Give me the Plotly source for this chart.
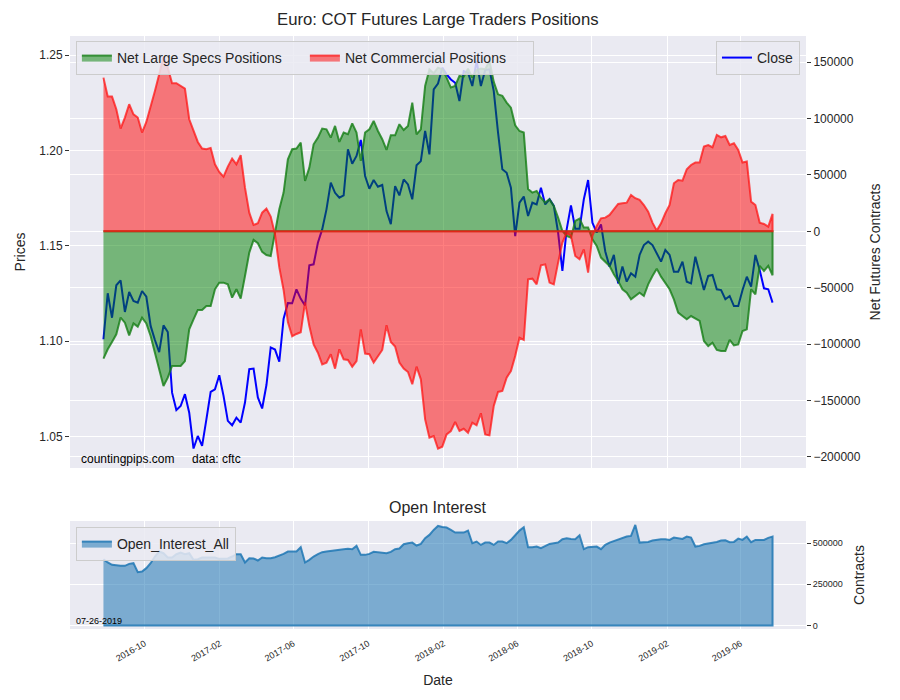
import pandas as pd
import plotly.graph_objects as go

dates = pd.date_range("2016-07-26", periods=157, freq="7D")

net_large_specs = [
    -112900, -104600, -98100, -91300, -76500, -81000, -92200, -81600, -84500, -76500,
    -81600, -92800, -107600, -122300, -137100, -129700, -119400, -119400, -119400, -115000,
    -86900, -78000, -69700, -69700, -66200, -66200, -51400, -45500, -45500, -47000,
    -58800, -51400, -59700, -39600, -18900, -7700, -10600, -18300, -21000, -21900,
    -2700, 19500, 34300, 63800, 72700, 73300, 78600, 44600, 56400, 77100,
    83000, 91000, 90400, 83000, 93400, 79200, 87500, 86000, 95700, 87500,
    62400, 87500, 90400, 97800, 88900, 81600, 72100, 85100, 85100, 94900,
    89800, 93400, 114100, 86000, 90400, 128800, 143600, 140100, 145100, 143600,
    136200, 127400, 128800, 137700, 137100, 144200, 136200, 143000, 144200, 143600,
    151000, 132400, 121400, 120000, 114100, 109600, 94000, 88900, 87500, 37400,
    34300, 35800, 29800, 25400, 28400, 22500, 12100, 300, -4100, -5600,
    9200, 11200, 3300, 3300, -7100, -13000, -23300, -27000, -30700, -38100,
    -44000, -51400, -54400, -60300, -57300, -54400, -57300, -47000, -39600, -33100,
    -40200, -45500, -51400, -60300, -72100, -75100, -78000, -75100, -77400, -79500,
    -97200, -101700, -98700, -105200, -106100, -106100, -96300, -101100, -100200, -88400,
    -86900, -51400, -55800, -30700, -35200, -30700, -39000,
]

net_commercial = [
    136200, 119400, 119400, 108200, 91000, 100800, 112600, 103700, 100800, 87500,
    96900, 109600, 124400, 139200, 154800, 145100, 131200, 131200, 128800, 126500,
    99300, 89800, 79200, 73300, 72700, 73900, 59400, 52600, 48500, 57300,
    64400, 59400, 67400, 38700, 16500, 5600, 7100, 16500, 20100, 13000,
    -2700, -32000, -52000, -80500, -93000, -91000, -89500, -63000, -84000, -100200,
    -107600, -117900, -116400, -109000, -121700, -104600, -113500, -114100, -120000, -115000,
    -86900, -108400, -109000, -116400, -110500, -105200, -83300, -98100, -102200, -116400,
    -121700, -124700, -135600, -120000, -131200, -166700, -182900, -181400, -192700, -190900,
    -180000, -177000, -169000, -177000, -175000, -178500, -169600, -172000, -161300, -180000,
    -180900, -154800, -142400, -141500, -129700, -123800, -110500, -94300, -96300, -42600,
    -42000, -47000, -30100, -29300, -45500, -47000, -27800, -10000, -1200, -4100,
    -21900, -24800, -16000, -36600, -4100, 4700, 11500, 12100, 14500, 18900,
    24200, 24800, 25400, 32200, 29300, 27800, 23300, 17400, 7700, 600,
    7100, 16000, 23300, 42600, 45500, 44900, 55000, 58800, 60900, 60900,
    75100, 76500, 74500, 85400, 83300, 84500, 76500, 78000, 72100, 60900,
    61800, 26300, 23300, 7700, 6500, 4100, 15400,
]

close = [
    1.1010, 1.1251, 1.1123, 1.1293, 1.1319, 1.1153, 1.1258, 1.1211, 1.1202, 1.1263,
    1.1233, 1.1080, 1.1006, 1.0943, 1.1083, 1.1048, 1.0730, 1.0639, 1.0660, 1.0722,
    1.0625, 1.0437, 1.0503, 1.0451, 1.0590, 1.0734, 1.0748, 1.0821, 1.0713, 1.0582,
    1.0559, 1.0599, 1.0573, 1.0678, 1.0853, 1.0856, 1.0705, 1.0647, 1.0770, 1.0967,
    1.0956, 1.0892, 1.1118, 1.1200, 1.1199, 1.1272, 1.1222, 1.1187, 1.1398, 1.1403,
    1.1516, 1.1586, 1.1691, 1.1831, 1.1778, 1.1752, 1.1764, 1.2006, 1.1930, 1.1971,
    1.2055, 1.1866, 1.1799, 1.1845, 1.1810, 1.1819, 1.1682, 1.1613, 1.1813, 1.1764,
    1.1848, 1.1822, 1.1744, 1.1922, 1.1944, 1.2102, 1.1979, 1.2320, 1.2351, 1.2434,
    1.2399, 1.2372, 1.2355, 1.2259, 1.2416, 1.2407, 1.2338, 1.2469, 1.2338, 1.2421,
    1.2425, 1.2311, 1.2093, 1.1901, 1.1883, 1.1805, 1.1551, 1.1726, 1.1758, 1.1656,
    1.1726, 1.1717, 1.1805, 1.1717, 1.1744, 1.1709, 1.1569, 1.1368, 1.1586, 1.1712,
    1.1590, 1.1590, 1.1744, 1.1845, 1.1621, 1.1569, 1.1612, 1.1470, 1.1390, 1.1452,
    1.1303, 1.1391, 1.1312, 1.1356, 1.1338, 1.1452, 1.1504, 1.1522, 1.1504, 1.1461,
    1.1417, 1.1478, 1.1452, 1.1364, 1.1364, 1.1417, 1.1312, 1.1303, 1.1443, 1.1356,
    1.1268, 1.1342, 1.1347, 1.1272, 1.1268, 1.1220, 1.1237, 1.1184, 1.1184, 1.1268,
    1.1338, 1.1286, 1.1452, 1.1373, 1.1277, 1.1272, 1.1202,
]

open_interest = [
    402800, 382600, 368400, 364300, 362300, 362300, 374400, 378500, 323900, 327900,
    348200, 378500, 419000, 449300, 439200, 412900, 412900, 433100, 443300, 433100,
    439200, 398700, 402800, 412900, 412900, 412900, 412900, 404800, 406800, 406800,
    419000, 433100, 433100, 382600, 408900, 406800, 394700, 412900, 408900, 408900,
    414900, 423000, 435100, 449300, 447300, 449300, 475600, 382600, 398700, 419000,
    433100, 445300, 449300, 453300, 459400, 463500, 463500, 465500, 463500, 483700,
    429100, 429100, 435100, 447300, 443300, 443300, 439200, 447300, 463500, 467500,
    493800, 499900, 503900, 485700, 495800, 530200, 550400, 580800, 605100, 599000,
    595000, 580600, 564600, 564600, 564600, 576800, 499900, 510100, 489600, 503900,
    503900, 489600, 510100, 510100, 499900, 520100, 550400, 576800, 597000, 475600,
    475600, 479700, 469600, 483700, 495800, 499900, 503900, 524100, 530200, 526200,
    524100, 548400, 463500, 475600, 475600, 479700, 463500, 489600, 503900, 514000,
    520100, 534300, 540400, 544400, 611100, 503900, 503900, 507900, 516000, 522100,
    524100, 524100, 520100, 534300, 530200, 526200, 540400, 534300, 479700, 483700,
    493800, 497800, 501900, 507900, 516000, 518000, 505900, 507900, 528100, 520100,
    540400, 505900, 520100, 520100, 520100, 532300, 540400,
]

date_ticks = ["2016-10-01", "2017-02-01", "2017-06-01", "2017-10-01", "2018-02-01",
              "2018-06-01", "2018-10-01", "2019-02-01", "2019-06-01"]
date_tick_labels = ["2016-10", "2017-02", "2017-06", "2017-10", "2018-02",
                    "2018-06", "2018-10", "2019-02", "2019-06"]
price_ticks = [1.05, 1.10, 1.15, 1.20, 1.25]
net_ticks = [-200000, -150000, -100000, -50000, 0, 50000, 100000, 150000]
oi_ticks = [0, 250000, 500000]

FONT = "Liberation Sans, Arial, sans-serif"
TXT = "#262626"
BG = "#EAEAF2"

xs = list(dates)
poly_x = xs + xs[::-1]
zeros = [0] * len(xs)

fig = go.Figure()

fig.add_trace(go.Scatter(
    x=xs, y=close, mode="lines", name="Close",
    line=dict(color="#0000FF", width=2), xaxis="x", yaxis="y", legend="legend2"))

fig.add_trace(go.Scatter(
    x=poly_x, y=list(net_large_specs) + zeros[::-1], mode="lines", fill="toself",
    name="Net Large Specs Positions", fillcolor="rgba(0,128,0,0.5)",
    line=dict(color="rgba(20,125,20,0.8)", width=2), xaxis="x", yaxis="y2", legend="legend"))

fig.add_trace(go.Scatter(
    x=poly_x, y=list(net_commercial) + zeros[::-1], mode="lines", fill="toself",
    name="Net Commercial Positions", fillcolor="rgba(255,0,0,0.5)",
    line=dict(color="rgba(255,20,20,0.75)", width=2), xaxis="x", yaxis="y2", legend="legend"))

fig.add_trace(go.Scatter(
    x=poly_x, y=list(open_interest) + zeros[::-1], mode="lines", fill="toself",
    name="Open_Interest_All", fillcolor="rgba(31,119,180,0.55)",
    line=dict(color="rgba(31,119,180,0.85)", width=2), xaxis="x2", yaxis="y3", legend="legend3"))

xrange = ["2016-06-01 10:00", "2019-09-15 14:00"]
top_bottom = 0.2715
bot_top = 0.1821

common_grid = dict(showgrid=True, gridcolor="white", gridwidth=1.2, zeroline=False,
                   showline=False, automargin=False)

legend_style = dict(bgcolor="rgba(234,234,242,0.85)", bordercolor="#cccccc", borderwidth=1,
                    font=dict(family=FONT, size=14, color=TXT))

# page body adds an 8px offset, so the figure is 892x692 drawn from (8, 8)
fig.update_layout(
    width=892, height=692,
    paper_bgcolor="white", plot_bgcolor=BG,
    margin=dict(l=62, r=94, t=28, b=71, autoexpand=False),
    font=dict(family=FONT, color=TXT),
    showlegend=True,
    xaxis=dict(domain=[0, 1], anchor="y", type="date", range=xrange,
               tickvals=date_ticks, ticktext=date_tick_labels, showticklabels=False,
               **common_grid),
    yaxis=dict(domain=[top_bottom, 1], anchor="x", range=[1.0335, 1.2600],
               tickvals=price_ticks, ticktext=["%.2f" % v for v in price_ticks],
               ticks="outside", ticklen=4, tickcolor="#333", tickfont=dict(size=12),
               title=dict(text="Prices", font=dict(size=14), standoff=10),
               **common_grid),
    yaxis2=dict(overlaying="y", side="right", anchor="x", range=[-209800, 173100],
                tickvals=net_ticks, tickformat="d",
                ticks="outside", ticklen=4, tickcolor="#333", tickfont=dict(size=12),
                title=dict(text="Net Futures Contracts", font=dict(size=14), standoff=10),
                **common_grid),
    xaxis2=dict(domain=[0, 1], anchor="y3", type="date", range=xrange,
                tickvals=date_ticks, ticktext=date_tick_labels, tickangle=-30,
                tickfont=dict(size=9), ticks="outside", ticklen=5,
                tickcolor="rgba(0,0,0,0)",
                title=dict(text="Date", font=dict(size=14), standoff=12),
                **common_grid),
    yaxis3=dict(domain=[0, bot_top], anchor="x2", side="right", range=[-22000, 635000],
                tickvals=oi_ticks, tickformat="d",
                ticks="outside", ticklen=4, tickcolor="#333", tickfont=dict(size=9),
                title=dict(text="Contracts", font=dict(size=14), standoff=12),
                **common_grid),
    legend=dict(x=0.008, y=0.9916, xanchor="left", yanchor="top", orientation="h",
                entrywidth=183, **legend_style),
    legend2=dict(x=0.9918, y=0.9916, xanchor="right", yanchor="top", **legend_style),
    legend3=dict(x=0.008, y=0.172, xanchor="left", yanchor="top", **legend_style),
    annotations=[
        dict(text="Euro: COT Futures Large Traders Positions", x=0.5, y=1.027,
             xref="paper", yref="paper", showarrow=False, xanchor="center", yanchor="middle",
             font=dict(size=16.7, color=TXT)),
        dict(text="Open Interest", x=0.5, y=0.2057, xref="paper", yref="paper",
             showarrow=False, xanchor="center", yanchor="middle",
             font=dict(size=16, color=TXT)),
        dict(text="countingpips.com", x=0.0122, y=0.2867, xref="paper", yref="paper",
             showarrow=False, xanchor="left", yanchor="middle",
             font=dict(size=12, color="black")),
        dict(text="data: cftc", x=0.163, y=0.2867, xref="paper", yref="paper",
             showarrow=False, xanchor="left", yanchor="middle",
             font=dict(size=12, color="black")),
        dict(text="07-26-2019", x=0.0054, y=0.0135, xref="paper", yref="paper",
             showarrow=False, xanchor="left", yanchor="middle",
             font=dict(size=9, color="black")),
    ],
)

fig.write_html("out.html")
